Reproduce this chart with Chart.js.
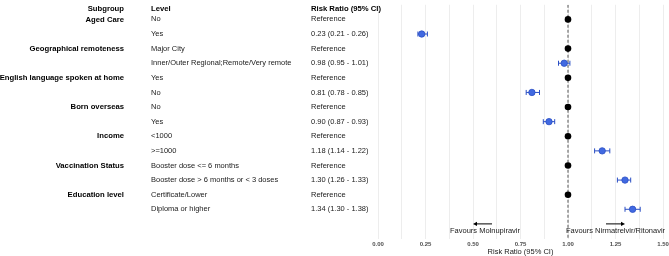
<!DOCTYPE html>
<html>
<head>
<meta charset="utf-8">
<script src="https://cdn.jsdelivr.net/npm/chart.js@4"></script>
<style>
html,body{margin:0;padding:0;background:#fff;}
#wrap{width:669px;height:256px;}
</style>
</head>
<body>
<div id="wrap"><canvas id="c" width="669" height="256"></canvas></div>
<script>
// ---- data ----
const subgroups = ['Aged Care','Geographical remoteness','English language spoken at home','Born overseas','Income','Vaccination Status','Education level'];
const levels = ['No','Yes','Major City','Inner/Outer Regional;Remote/Very remote','Yes','No','No','Yes','<1000','>=1000','Booster dose <= 6 months','Booster dose > 6 months or < 3 doses','Certificate/Lower','Diploma or higher'];
const rr    = [1, 0.23, 1, 0.98, 1, 0.81, 1, 0.90, 1, 1.18, 1, 1.30, 1, 1.34];
const lower = [null, 0.21, null, 0.95, null, 0.78, null, 0.87, null, 1.14, null, 1.26, null, 1.30];
const upper = [null, 0.26, null, 1.01, null, 0.85, null, 0.93, null, 1.22, null, 1.33, null, 1.38];
const rrText = ['Reference','0.23 (0.21 - 0.26)','Reference','0.98 (0.95 - 1.01)','Reference','0.81 (0.78 - 0.85)','Reference','0.90 (0.87 - 0.93)','Reference','1.18 (1.14 - 1.22)','Reference','1.30 (1.26 - 1.33)','Reference','1.34 (1.30 - 1.38)'];
const headers = ['Subgroup','Level','Risk Ratio (95% CI)'];
const xTickLabels = ['0.00','0.25','0.50','0.75','1.00','1.25','1.50'];
const leftNote = 'Favours Molnupiravir';
const rightNote = 'Favours Nirmatrelvir/Ritonavir';
const axisTitle = 'Risk Ratio (95% CI)';

const refPts = [], estPts = [];
rr.forEach((v,i)=>{ (lower[i]===null ? refPts : estPts).push({x:v,y:i}); });

const FONT = '"Liberation Sans", Arial, sans-serif';
const BLUE = '#4169e1';
const BLUE_D = '#2b4fc4';

const overlay = {
  id:'overlay',
  beforeDatasetsDraw(chart){
    const ctx = chart.ctx, xs = chart.scales.x, ys = chart.scales.y;
    ctx.save();
    ctx.strokeStyle = BLUE_D; ctx.lineWidth = 1;
    rr.forEach((v,i)=>{
      if(lower[i]===null) return;
      const y = ys.getPixelForValue(i);
      const x1 = xs.getPixelForValue(lower[i]), x2 = xs.getPixelForValue(upper[i]);
      ctx.beginPath();
      ctx.moveTo(x1,y); ctx.lineTo(x2,y);
      ctx.moveTo(x1,y-2.5); ctx.lineTo(x1,y+2.5);
      ctx.moveTo(x2,y-2.5); ctx.lineTo(x2,y+2.5);
      ctx.stroke();
    });
    ctx.restore();
  },
  afterDraw(chart){
    const ctx = chart.ctx, xs = chart.scales.x, ys = chart.scales.y;
    ctx.save();
    ctx.textBaseline = 'middle';
    ctx.fillStyle = '#000';
    // headers
    const hy = ys.getPixelForValue(-0.72);
    ctx.font = 'bold 7.7px ' + FONT;
    ctx.textAlign = 'right'; ctx.fillText(headers[0], 124, hy);
    ctx.textAlign = 'left'; ctx.fillText(headers[1], 151, hy);
    ctx.fillText(headers[2], 311, hy);
    // subgroups
    subgroups.forEach((s,k)=>{
      ctx.textAlign = 'right';
      ctx.fillText(s, 124, ys.getPixelForValue(2*k));
    });
    ctx.font = '7.5px ' + FONT;
    ctx.fillStyle = '#1a1a1a';
    levels.forEach((s,i)=>{
      const y = ys.getPixelForValue(i);
      ctx.textAlign = 'left';
      ctx.fillText(s, 151, y);
      ctx.fillText(rrText[i], 311, y);
    });
    // arrows
    const ay = ys.getPixelForValue(14.0);
    const ty = ys.getPixelForValue(14.5);
    ctx.strokeStyle = '#000'; ctx.fillStyle = '#000'; ctx.lineWidth = 1;
    function arrow(from,to){
      const x1 = xs.getPixelForValue(from), x2 = xs.getPixelForValue(to);
      const d = Math.sign(x2-x1);
      ctx.beginPath(); ctx.moveTo(x1,ay); ctx.lineTo(x2-d*3,ay); ctx.stroke();
      ctx.beginPath(); ctx.moveTo(x2,ay); ctx.lineTo(x2-d*4,ay-2.2); ctx.lineTo(x2-d*4,ay+2.2); ctx.closePath(); ctx.fill();
    }
    arrow(0.6,0.5);
    arrow(1.2,1.3);
    ctx.fillStyle = '#1a1a1a';
    ctx.textAlign = 'center';
    ctx.fillText(leftNote, xs.getPixelForValue(0.563), ty);
    ctx.fillText(rightNote, xs.getPixelForValue(1.25), ty);
    ctx.restore();
  }
};

new Chart(document.getElementById('c'), {
  type:'scatter',
  data:{
    datasets:[
      {type:'line', data:[{x:1,y:-1},{x:1,y:15}], borderColor:'#7a7a7a', borderWidth:1.3, borderDash:[3,2], pointRadius:0, order:3},
      {data:refPts, backgroundColor:'#000', borderColor:'#000', pointRadius:3.3, borderWidth:0, order:2},
      {data:estPts, backgroundColor:BLUE, borderColor:BLUE_D, pointRadius:3.2, borderWidth:0.8, order:1}
    ]
  },
  options:{
    responsive:false, animation:false,
    layout:{padding:{left:378, right:6, top:3, bottom:0}},
    plugins:{legend:{display:false}, tooltip:{enabled:false}},
    scales:{
      x:{
        type:'linear', min:0, max:1.5,
        afterBuildTicks(s){ s.ticks = []; for(let i=0;i<=12;i++) s.ticks.push({value:i*0.125}); },
        afterFit(s){ s.paddingRight = 0; s.paddingLeft = 0; },
        ticks:{
          autoSkip:false, maxRotation:0, padding:3,
          font:{family:FONT, size:6, weight:'bold', lineHeight:1}, color:'#4d4d4d',
          callback:(v,i)=> (i%2===0 ? xTickLabels[i/2] : '')
        },
        grid:{color:'#ebebeb', lineWidth:0.9, drawTicks:false},
        border:{display:false},
        title:{display:true, text:axisTitle, font:{family:FONT, size:7.5, lineHeight:1}, color:'#1a1a1a', padding:{top:-2,bottom:0}}
      },
      y:{type:'linear', min:-1, max:15, reverse:true, display:false}
    }
  },
  plugins:[overlay]
});
</script>
</body>
</html>
